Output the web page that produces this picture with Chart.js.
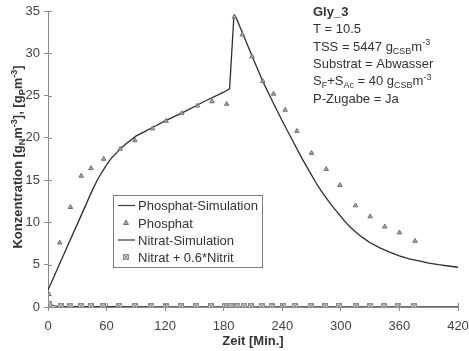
<!DOCTYPE html>
<html>
<head>
<meta charset="utf-8">
<script src="https://cdn.jsdelivr.net/npm/chart.js@4/dist/chart.umd.min.js"></script>
<style>
  html, body { margin: 0; padding: 0; background: #fff; }
  #wrap { width: 469px; height: 351px; position: relative; }
</style>
</head>
<body>
<div id="wrap"><canvas id="c"></canvas></div>
<script>
// Measured phosphate (triangles), time in minutes
const phosphatTime = [1, 12, 23, 34, 44, 57, 74, 89, 107, 121, 137, 153, 168, 183, 191, 199, 209, 220, 231, 243, 255, 270, 285, 299, 315, 330, 345, 360, 376];
const phosphatValues = [1.5, 7.6, 11.8, 15.5, 16.4, 17.5, 18.7, 19.7, 21.1, 22.0, 22.9, 23.8, 24.3, 24.0, 34.3, 32.2, 29.6, 26.7, 25.2, 23.3, 20.8, 18.2, 16.3, 14.4, 12.0, 10.7, 9.5, 8.8, 7.8];

// Measured nitrate + 0.6*nitrite
const nitratTime = [1, 13, 23, 34, 44, 56, 73, 89, 106, 121, 136, 152, 167, 181, 187, 194, 201, 208, 219, 229, 241, 253, 269, 284, 298, 315, 330, 344, 359, 375];
const nitratValues = [0.3, 0.1, 0.1, 0.1, 0.1, 0.1, 0.1, 0.1, 0.1, 0.1, 0.1, 0.1, 0.1, 0.15, 0.15, 0.1, 0.15, 0.1, 0.1, 0.1, 0.15, 0.1, 0.1, 0.1, 0.1, 0.1, 0.1, 0.1, 0.15, 0.1];

// Simulated phosphate
const phosphatSimTime = [0, 10, 20, 30, 40, 45, 50, 55, 60, 65, 70, 75, 80, 90, 100, 110, 120, 140, 160, 180, 186, 190.5, 192, 200, 210, 220, 230, 240, 250, 260, 270, 275, 280, 285, 290, 295, 300, 305, 310, 315, 320, 325, 330, 340, 350, 360, 370, 380, 390, 400, 410, 420];
const phosphatSimValues = [2.0, 4.6, 7.2, 9.8, 12.4, 13.7, 14.9, 15.9, 16.8, 17.6, 18.2, 18.8, 19.3, 20.2, 20.8, 21.4, 22.0, 23.1, 24.3, 25.4, 25.8, 34.5, 34.4, 32.2, 29.4, 26.7, 24.3, 22.0, 19.8, 17.6, 15.6, 14.6, 13.7, 12.9, 12.1, 11.4, 10.7, 10.0, 9.4, 8.9, 8.4, 8.0, 7.6, 7.0, 6.5, 6.05, 5.7, 5.45, 5.2, 5.0, 4.85, 4.7];

// Simulated nitrate
const nitratSimTime = [0, 3, 6, 10, 20, 60, 120, 180, 240, 300, 360, 420];
const nitratSimValues = [0.6, 0.3, 0.15, 0.08, 0.05, 0.04, 0.03, 0.03, 0.03, 0.03, 0.03, 0.03];

const xTicks = [0, 60, 120, 180, 240, 300, 360, 420];
const yTicks = [0, 5, 10, 15, 20, 25, 30, 35];

const legendLabels = ['Phosphat-Simulation', 'Phosphat', 'Nitrat-Simulation', 'Nitrat + 0.6*Nitrit'];

const FONT = '"Liberation Sans", Arial, Helvetica, sans-serif';
const TEXT = '#333333';
const AXIS = '#8a8a8a';

const pairs = (xs, ys) => xs.map((x, i) => ({ x: x, y: ys[i] }));

// small square-with-cross marker for the nitrate samples
function crossBox(size) {
  const c = document.createElement('canvas');
  c.width = size; c.height = size;
  const g = c.getContext('2d');
  g.strokeStyle = '#8c8c8c';
  g.fillStyle = '#d8d8d8';
  g.lineWidth = 1;
  g.fillRect(0.5, 0.5, size - 1, size - 1);
  g.strokeRect(0.5, 0.5, size - 1, size - 1);
  g.beginPath();
  g.moveTo(0.5, 0.5); g.lineTo(size - 0.5, size - 0.5);
  g.moveTo(size - 0.5, 0.5); g.lineTo(0.5, size - 0.5);
  g.stroke();
  return c;
}
const nitratMarker = crossBox(6);

// draw text runs with sub/superscripts
function richWidth(ctx, runs, size) {
  let w = 0;
  for (const r of runs) {
    ctx.font = (r.b ? 'bold ' : '') + (r.m === 'n' ? size : Math.round(size * 0.68)) + 'px ' + FONT;
    w += ctx.measureText(r.t).width;
  }
  return w;
}
function richText(ctx, runs, x, y, size) {
  let cx = x;
  for (const r of runs) {
    const s = r.m === 'n' ? size : Math.round(size * 0.68);
    ctx.font = (r.b ? 'bold ' : '') + s + 'px ' + FONT;
    const dy = r.m === 'sub' ? size * 0.25 : (r.m === 'sup' ? -size * 0.42 : 0);
    ctx.fillText(r.t, cx, y + dy);
    cx += ctx.measureText(r.t).width;
  }
  return cx;
}

const decorations = {
  id: 'decorations',
  afterDraw(chart) {
    const ctx = chart.ctx;
    const area = chart.chartArea;
    const xs = chart.scales.x, ys = chart.scales.y;
    ctx.save();

    // inner halves of the tick marks
    ctx.strokeStyle = AXIS;
    ctx.lineWidth = 1;
    ctx.beginPath();
    yTicks.forEach(v => {
      const py = Math.round(ys.getPixelForValue(v)) + 0.5;
      ctx.moveTo(area.left, py); ctx.lineTo(area.left + 4, py);
    });
    xTicks.forEach(v => {
      const px = Math.round(xs.getPixelForValue(v)) + 0.5;
      ctx.moveTo(px, area.bottom); ctx.lineTo(px, area.bottom - 4);
    });
    ctx.stroke();

    ctx.fillStyle = TEXT;
    ctx.textBaseline = 'alphabetic';
    ctx.textAlign = 'left';

    // axis titles
    ctx.font = 'bold 13px ' + FONT;
    ctx.textAlign = 'center';
    ctx.fillText('Zeit [Min.]', (area.left + area.right) / 2, 345);
    ctx.textAlign = 'left';

    const yTitle = [
      { t: 'Konzentration [g', m: 'n', b: true },
      { t: 'N', m: 'sub', b: true },
      { t: 'm', m: 'n', b: true },
      { t: '-3', m: 'sup', b: true },
      { t: '], [g', m: 'n', b: true },
      { t: 'P', m: 'sub', b: true },
      { t: 'm', m: 'n', b: true },
      { t: '-3', m: 'sup', b: true },
      { t: ']', m: 'n', b: true }
    ];
    ctx.save();
    ctx.translate(22, (area.top + area.bottom) / 2 - 2);
    ctx.rotate(-Math.PI / 2);
    const tw = richWidth(ctx, yTitle, 13);
    richText(ctx, yTitle, -tw / 2, 0, 13);
    ctx.restore();

    // run description block
    const ax = 313, lh = 17.3, by = 16;
    ctx.font = 'bold 13px ' + FONT;
    ctx.fillText('Gly_3', ax, by);
    richText(ctx, [{ t: 'T = 10.5', m: 'n' }], ax, by + lh, 13);
    richText(ctx, [{ t: 'TSS = 5447 g', m: 'n' }, { t: 'CSB', m: 'sub' }, { t: 'm', m: 'n' }, { t: '-3', m: 'sup' }], ax, by + 2 * lh, 13);
    richText(ctx, [{ t: 'Substrat = Abwasser', m: 'n' }], ax, by + 3 * lh, 13);
    richText(ctx, [{ t: 'S', m: 'n' }, { t: 'F', m: 'sub' }, { t: '+S', m: 'n' }, { t: 'Ac', m: 'sub' }, { t: ' = 40 g', m: 'n' }, { t: 'CSB', m: 'sub' }, { t: 'm', m: 'n' }, { t: '-3', m: 'sup' }], ax, by + 4 * lh, 13);
    richText(ctx, [{ t: 'P-Zugabe = Ja', m: 'n' }], ax, by + 5 * lh, 13);

    // legend box
    const lx = 113.5, ly = 195.5, lw = 149, lhh = 72;
    ctx.fillStyle = '#fff';
    ctx.fillRect(lx, ly, lw, lhh);
    ctx.strokeStyle = '#7a7a7a';
    ctx.lineWidth = 1;
    ctx.strokeRect(lx, ly, lw, lhh);
    const rows = [210, 227.5, 244.5, 262];
    ctx.strokeStyle = '#3a3a3a';
    ctx.lineWidth = 1.2;
    [0, 2].forEach(i => {
      ctx.beginPath();
      ctx.moveTo(118, rows[i] - 4.5); ctx.lineTo(135, rows[i] - 4.5);
      ctx.stroke();
    });
    // triangle sample
    ctx.fillStyle = '#a8a8a8';
    ctx.strokeStyle = '#707070';
    ctx.lineWidth = 1;
    ctx.beginPath();
    ctx.moveTo(126, rows[1] - 7.5); ctx.lineTo(128.5, rows[1] - 3); ctx.lineTo(123.5, rows[1] - 3); ctx.closePath();
    ctx.fill(); ctx.stroke();
    ctx.drawImage(nitratMarker, 123, rows[3] - 8);
    ctx.fillStyle = TEXT;
    ctx.font = '13px ' + FONT;
    legendLabels.forEach((t, i) => ctx.fillText(t, 138, rows[i]));

    ctx.restore();
  }
};

new Chart(document.getElementById('c'), {
  type: 'scatter',
  data: {
    datasets: [
      {
        label: legendLabels[2],
        data: pairs(nitratSimTime, nitratSimValues),
        showLine: true, borderColor: '#3a3a3a', borderWidth: 1.2,
        pointRadius: 0, tension: 0, order: 3
      },
      {
        label: legendLabels[3],
        data: pairs(nitratTime, nitratValues),
        showLine: false, pointStyle: nitratMarker, pointRadius: 3, order: 2
      },
      {
        label: legendLabels[0],
        data: pairs(phosphatSimTime, phosphatSimValues),
        showLine: true, borderColor: '#2e2e2e', borderWidth: 1.3,
        pointRadius: 0, tension: 0, order: 1
      },
      {
        label: legendLabels[1],
        data: pairs(phosphatTime, phosphatValues),
        showLine: false, pointStyle: 'triangle', pointRadius: 2.6,
        backgroundColor: '#a8a8a8', borderColor: '#707070', borderWidth: 1, order: 0
      }
    ]
  },
  options: {
    responsive: true,
    maintainAspectRatio: false,
    animation: false,
    events: [],
    layout: { padding: { top: 11, right: 11, left: 0, bottom: 0 } },
    plugins: { legend: { display: false }, tooltip: { enabled: false } },
    scales: {
      x: {
        type: 'linear', min: 0, max: 420,
        afterFit(s) { s.height = 44; s.paddingLeft = 0; s.paddingRight = 0; },
        afterBuildTicks(s) { s.ticks = xTicks.map(v => ({ value: v })); },
        ticks: { color: '#444444', font: { family: FONT, size: 13 }, padding: 8 },
        grid: { display: true, drawOnChartArea: false, drawTicks: true, tickLength: 4, color: AXIS },
        border: { display: true, color: AXIS, width: 1 }
      },
      y: {
        type: 'linear', min: 0, max: 35,
        afterFit(s) { s.width = 48; s.paddingTop = 0; s.paddingBottom = 0; },
        afterBuildTicks(s) { s.ticks = yTicks.map(v => ({ value: v })); },
        ticks: { color: '#444444', font: { family: FONT, size: 13 }, padding: 4 },
        grid: { display: true, drawOnChartArea: false, drawTicks: true, tickLength: 4, color: AXIS },
        border: { display: true, color: AXIS, width: 1 }
      }
    }
  },
  plugins: [decorations]
});
</script>
</body>
</html>
